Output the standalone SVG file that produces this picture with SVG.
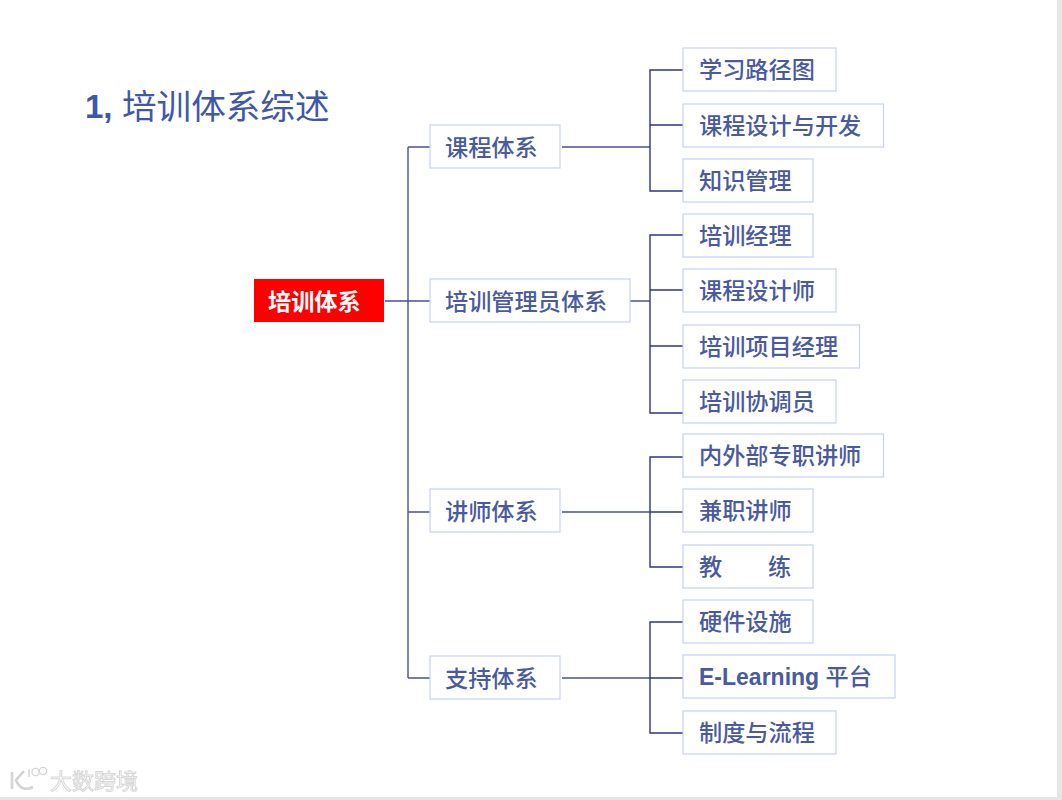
<svg xmlns="http://www.w3.org/2000/svg" width="1062" height="800" viewBox="0 0 1062 800">
<defs>
<style>
.box{fill:#fff;stroke:#c5d3f0;stroke-width:1.2}
.t{font-family:"Noto Sans CJK SC","Liberation Sans",sans-serif;font-size:23.2px;font-weight:500;fill:#4a5a9f}
.c{fill:none;stroke:#4c5192;stroke-width:1.4}
.c2{fill:none;stroke:#2f3585;stroke-width:1.4}
.wm{fill:#fff;stroke:#d8d8d8;stroke-width:1}
</style>
<filter id="soft" x="-5%" y="-20%" width="110%" height="140%"><feGaussianBlur stdDeviation="0.5"/></filter>
</defs>
<rect width="1062" height="800" fill="#fff"/>
<rect x="1057" y="0" width="5" height="800" fill="#e6e6e6"/>
<rect x="0" y="797" width="1062" height="3" fill="#e6e6e6"/>
<g id="title">
<text x="85" y="118" font-family="'Liberation Sans',sans-serif" font-size="33" font-weight="700" fill="#4058a6">1,</text>
<text x="122" y="119" font-family="'Noto Sans CJK SC',sans-serif" font-size="34.6" fill="#4058a6">培训体系综述</text>
</g>
<g id="connectors">
<path class="c" d="M385 301H430M408 147V678M408 147H430M408 512H430M408 678H430"/>
<path class="c" d="M562 147H650M630 301H650M562 512H650M562 678H650"/>
<path class="c2" d="M683 70H650V191H683M650 125H683"/>
<path class="c2" d="M683 235H650V413H683M650 290H683M650 346H683"/>
<path class="c2" d="M683 457H650V567H683M650 512H683"/>
<path class="c2" d="M683 622H650V733H683M650 678H683"/>
</g>
<g id="root"><rect x="254" y="279" width="130" height="43" fill="#ff0000"/><text x="268" y="309.500" class="t" style="fill:#fff;font-weight:700">培训体系</text></g>
<g id="n-kecheng"><rect class="box" x="430" y="125" width="130" height="43"/><text class="t" x="445" y="155.500">课程体系</text></g>
<g id="n-guanli"><rect class="box" x="430" y="279" width="200" height="43"/><text class="t" x="445" y="309.500">培训管理员体系</text></g>
<g id="n-jiangshi"><rect class="box" x="430" y="489" width="130" height="43"/><text class="t" x="445" y="519.500">讲师体系</text></g>
<g id="n-zhichi"><rect class="box" x="430" y="656" width="130" height="43"/><text class="t" x="445" y="686.500">支持体系</text></g>
<g id="l1"><rect class="box" x="683" y="48" width="153" height="43"/><text class="t" x="699" y="78">学习路径图</text></g>
<g id="l2"><rect class="box" x="683" y="104" width="200.500" height="43"/><text class="t" x="699" y="134">课程设计与开发</text></g>
<g id="l3"><rect class="box" x="683" y="159" width="130" height="43"/><text class="t" x="699" y="189">知识管理</text></g>
<g id="l4"><rect class="box" x="683" y="214" width="130" height="43"/><text class="t" x="699" y="244">培训经理</text></g>
<g id="l5"><rect class="box" x="683" y="269" width="153" height="43"/><text class="t" x="699" y="299">课程设计师</text></g>
<g id="l6"><rect class="box" x="683" y="325" width="176.500" height="43"/><text class="t" x="699" y="355">培训项目经理</text></g>
<g id="l7"><rect class="box" x="683" y="380" width="153" height="43"/><text class="t" x="699" y="410">培训协调员</text></g>
<g id="l8"><rect class="box" x="683" y="434" width="200.500" height="43"/><text class="t" x="699" y="464">内外部专职讲师</text></g>
<g id="l9"><rect class="box" x="683" y="489" width="130" height="43"/><text class="t" x="699" y="519">兼职讲师</text></g>
<g id="l10"><rect class="box" x="683" y="545" width="130" height="43"/><text class="t" x="699" y="575">教</text><text class="t" x="768" y="575">练</text></g>
<g id="l11"><rect class="box" x="683" y="600" width="130" height="43"/><text class="t" x="699" y="630">硬件设施</text></g>
<g id="l12"><rect class="box" x="683" y="655" width="212" height="43"/><text class="t" x="699" y="685"><tspan font-family="'Liberation Sans',sans-serif" font-weight="700" font-size="23">E-Learning </tspan>平台</text></g>
<g id="l13"><rect class="box" x="683" y="711" width="153" height="43"/><text class="t" x="699" y="741">制度与流程</text></g>
<g id="watermark" filter="url(#soft)">
<path d="M12 772V789M24 771L16 780C19 788 25 791 33 787" fill="none" stroke="#d4d4d4" stroke-width="2.6"/>
<path d="M29 769V777" fill="none" stroke="#d4d4d4" stroke-width="1.4"/>
<circle cx="35.500" cy="772" r="3.600" fill="#fff" stroke="#d4d4d4" stroke-width="1.2"/>
<circle cx="43" cy="771" r="3.600" fill="#fff" stroke="#d4d4d4" stroke-width="1.2"/>
<text class="wm" x="50" y="789" font-family="'Noto Sans CJK SC',sans-serif" font-size="22">大数跨境</text>
</g>
</svg>
